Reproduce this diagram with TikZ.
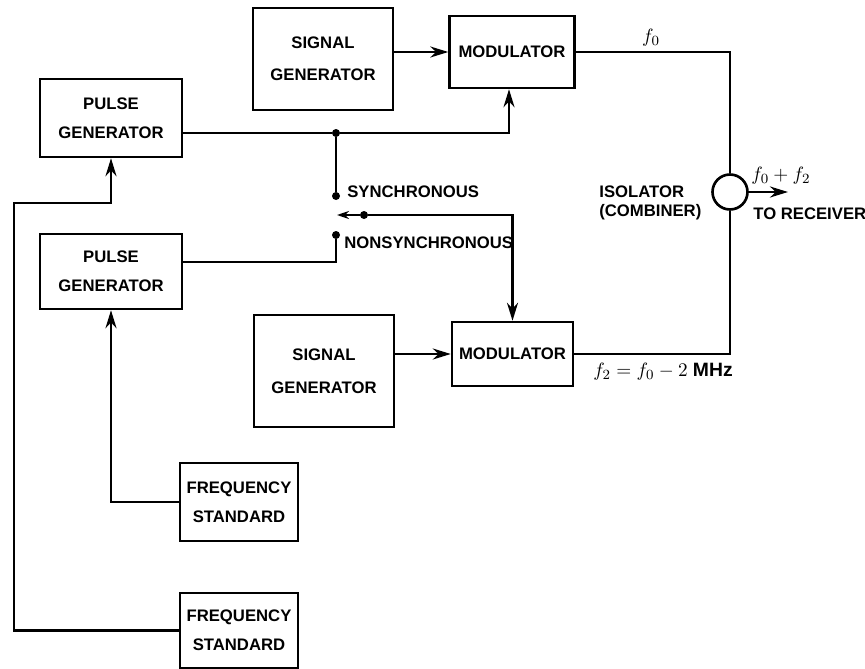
\documentclass[tikz,border=0pt]{standalone}
\usepackage{fontspec}
\setmainfont{Liberation Sans}
\usepackage{tikz}
\usetikzlibrary{calc,positioning,arrows.meta,shapes.geometric}
\tikzset{
		>={Stealth[length=3.6mm,width=2.2mm]},
		block/.style={
			rectangle,
			draw=black, line width=1.4pt,
			align=center,
			inner sep=0pt,
			font=\fontsize{9.5}{16.5}\selectfont\bfseries},
		line/.style={draw, line width=1.5pt},
		dot/.style={circle, fill=black, inner sep=0pt, minimum size=1.6mm},
		lbl/.style={inner sep=0pt, font=\fontsize{9.5}{12}\selectfont\bfseries},
		freq/.style={inner sep=0pt, font=\fontsize{11}{12}\selectfont\bfseries},
		isolator/.style={circle, draw=black, line width=1.5pt, minimum size=0.7cm, inner sep=0pt},
	}

\begin{document}
\begin{tikzpicture}[x=0.02cm,y=-0.02cm]
				\useasboundingbox (0,0) rectangle (865,669);
				%% blocks
				\node[block, minimum width=2.8cm, minimum height=2.04cm, font=\fontsize{9.5}{18.5}\selectfont\bfseries] (sig1) at (323,59) {SIGNAL\\GENERATOR};
				\node[block, minimum width=2.5cm, minimum height=1.44cm] (mod1) at (512,52) {MODULATOR};
				\node[block, minimum width=2.84cm, minimum height=1.56cm] (pg1) at (111,118) {PULSE\\GENERATOR};
				\node[block, minimum width=2.84cm, minimum height=1.5cm] (pg2) at (111,271.5) {PULSE\\GENERATOR};
				\node[block, minimum width=2.8cm, minimum height=2.24cm, font=\fontsize{9.5}{18.5}\selectfont\bfseries] (sig2) at (324,371) {SIGNAL\\GENERATOR};
				\node[block, minimum width=2.42cm, minimum height=1.28cm] (mod2) at (512.5,354) {MODULATOR};
				\node[block, minimum width=2.36cm, minimum height=1.56cm] (fs1) at (239,502) {FREQUENCY\\STANDARD};
				\node[block, minimum width=2.36cm, minimum height=1.5cm] (fs2) at (239,630.5) {FREQUENCY\\STANDARD};
				\node[isolator] (iso) at (730,192) {};
				
				%% switch
				\node[dot] (junc) at (336,133) {};
				\node[dot] (sync) at (336,196) {};
				\node[dot] (nsync) at (336,235) {};
				\node[dot] (arm) at (364,215) {};
				\coordinate (tip) at (337,215);
				\coordinate (bend) at (14,203);
				\coordinate (rx) at (788,192);
				\coordinate (pg2out) at (182,262);
				
				%% connections
				\draw[line, ->] (sig1.east |- mod1.west) -- (mod1.west);
				\draw[line, ->] (sig2.east |- mod2.west) -- (mod2.west);
				\draw[line, ->] (pg1.east |- junc) -- (junc) -| ([xshift=-0.06cm]mod1.south);
				\draw[line] (junc) -- (sync);
				\draw[line, ->, >={Stealth[length=2.4mm,width=1.6mm]}] (arm) -- (tip);
				\draw[line, ->] (arm) -| (mod2.north);
				\draw[line] (pg2out) -| (nsync);
				\draw[line, ->] (fs2.west) -| (bend) -| (pg1.south);
				\draw[line, ->] (fs1.west) -| (pg2.south);
				\draw[line] (mod1.east) -| (iso.north);
				\draw[line] (mod2.east) -| (iso.south);
				\draw[line, ->] (iso.east) -- (rx);
				
				%% labels
				\node[freq] at (651,38) {$f_0$};
				\node[freq, anchor=west] at (751,176) {$f_0 + f_2$};
				\node[lbl, anchor=west] at (753,214) {TO RECEIVER};
				\node[lbl, anchor=west, align=left, font=\fontsize{9.5}{11}\selectfont\bfseries] at (599,203) {ISOLATOR\\(COMBINER)};
				\node[lbl, anchor=west] at (347,192) {SYNCHRONOUS};
				\node[lbl, anchor=west] at (344,243) {NONSYNCHRONOUS};
				\node[freq] at (663,372) {$f_2 = f_0 - 2$ MHz};
\end{tikzpicture}
\end{document}
